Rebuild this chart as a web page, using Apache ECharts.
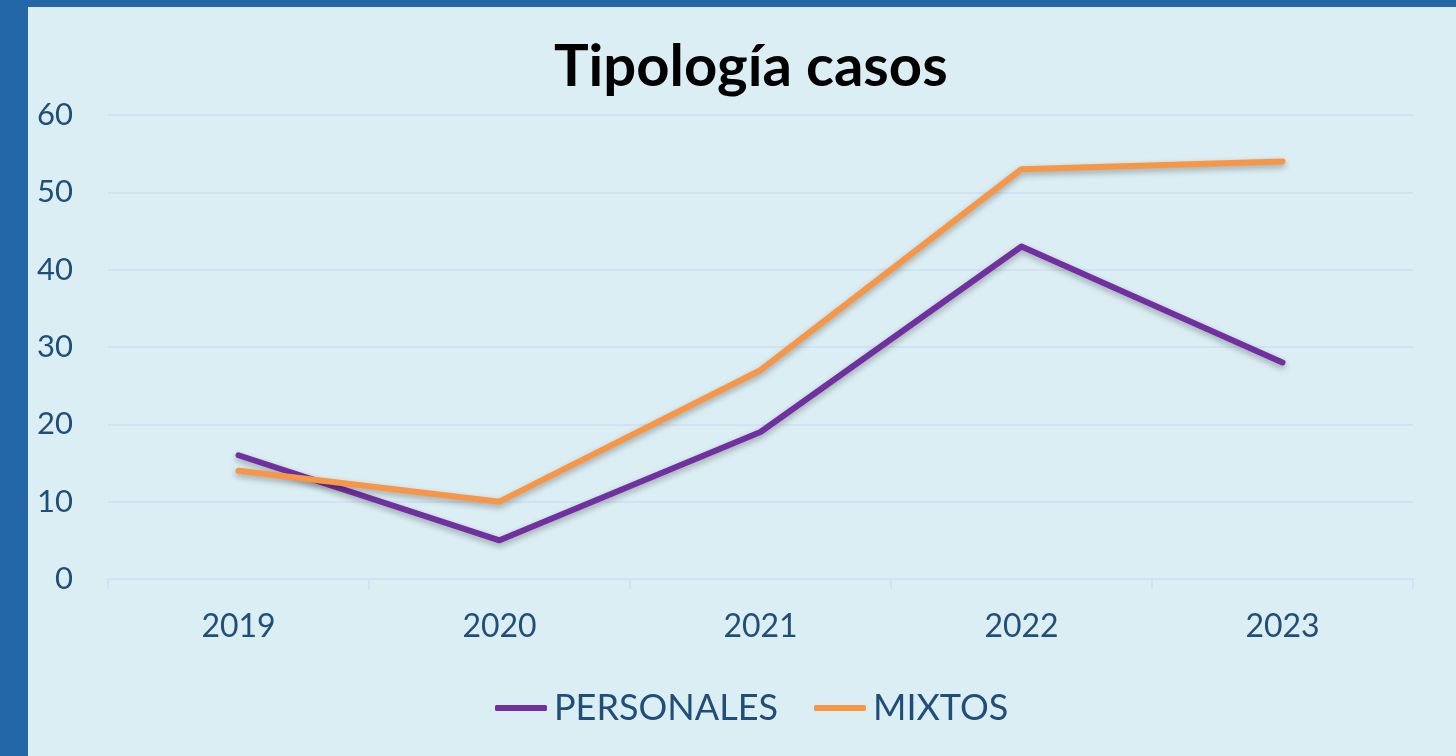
<!DOCTYPE html>
<html>
<head>
<meta charset="utf-8">
<script src="https://cdn.jsdelivr.net/npm/echarts@6/dist/echarts.min.js"></script>
<style>
  html, body { margin: 0; padding: 0; background: #2467a8; }
  #frame { position: absolute; left: 28px; top: 7px; right: 0; bottom: 0; background: #dbeef4; }
  #main { position: absolute; left: 0; top: 0; width: 1456px; height: 756px; }
</style>
</head>
<body>
<div id="frame"></div>
<div id="main"></div>
<script>
var years = ['2019', '2020', '2021', '2022', '2023'];
var personales = [16, 5, 19, 43, 28];
var mixtos = [14, 10, 27, 53, 54];
var yTicks = [0, 10, 20, 30, 40, 50, 60];

var chartDom = document.getElementById('main');
var myChart = echarts.init(chartDom);
var textColor = '#1f4e79';
var font = 'Lato, "Open Sans", sans-serif';

var option = {
  title: {
    text: 'Tipología casos',
    left: 549,
    top: 33,
    textStyle: { fontFamily: font, fontSize: 58, fontWeight: 'bold', color: '#000' }
  },
  legend: {
    bottom: 25,
    left: 490,
    itemWidth: 52,
    itemHeight: 6,
    itemGap: 36,
    textStyle: { fontFamily: font, fontSize: 36, color: textColor, padding: [0, 0, 0, 2] },
    data: [
      { name: 'PERSONALES', icon: 'roundRect' },
      { name: 'MIXTOS', icon: 'roundRect' }
    ]
  },
  grid: { left: 108, right: 43, top: 115, bottom: 177 },
  xAxis: {
    type: 'category',
    data: years,
    boundaryGap: true,
    axisLine: { lineStyle: { color: '#d2e2f2', width: 2 } },
    axisTick: { show: true, length: 10, lineStyle: { color: '#d2e2f2', width: 2 } },
    axisLabel: { fontFamily: font, fontSize: 32, color: textColor, margin: 32 }
  },
  yAxis: {
    type: 'value',
    min: yTicks[0],
    max: yTicks[yTicks.length - 1],
    interval: 10,
    axisLine: { show: false },
    axisTick: { show: false },
    splitLine: { lineStyle: { color: '#d2e2f2', width: 2 } },
    axisLabel: { fontFamily: font, fontSize: 31, color: textColor, margin: 35 }
  },
  series: [
    {
      name: 'PERSONALES',
      type: 'line',
      data: personales,
      symbol: 'none',
      color: '#7030a0',
      lineStyle: { width: 6, cap: 'round', join: 'round', shadowColor: 'rgba(0,0,0,0.3)', shadowBlur: 6, shadowOffsetY: 3 }
    },
    {
      name: 'MIXTOS',
      type: 'line',
      data: mixtos,
      symbol: 'none',
      color: '#f79646',
      lineStyle: { width: 6, cap: 'round', join: 'round', shadowColor: 'rgba(0,0,0,0.3)', shadowBlur: 6, shadowOffsetY: 3 }
    }
  ]
};

option && myChart.setOption(option);
</script>
</body>
</html>
